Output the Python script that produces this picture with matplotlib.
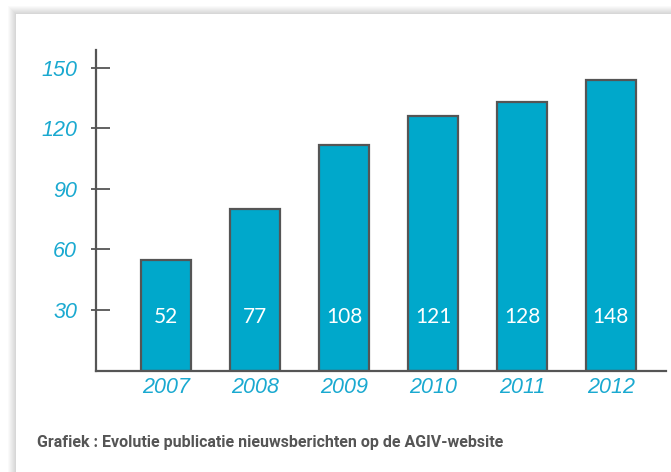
import matplotlib.pyplot as plt
from matplotlib.patches import Rectangle

# Data
years = ["2007", "2008", "2009", "2010", "2011", "2012"]
bar_heights = [55, 80, 112, 126, 133, 144]   # drawn height of each bar
bar_labels = [52, 77, 108, 121, 128, 148]     # number printed inside each bar
y_ticks = [30, 60, 90, 120, 150]

bar_color = "#00a8cb"
edge_color = "#555555"
tick_color = "#1aa9d0"

W, H = 671, 472
fig = plt.figure(figsize=(W / 100, H / 100), dpi=100)
fig.patch.set_facecolor("white")

# --- card with soft shadow on top/left ---
card_x, card_y = 16, 14
for k in range(8, 0, -1):
    fig.patches.append(Rectangle(((card_x - k) / W, 0), 2, 1 - (card_y - k) / H,
                                 transform=fig.transFigure, facecolor="#000000",
                                 alpha=0.018, edgecolor="none", zorder=-5))
fig.patches.append(Rectangle((card_x / W, 0), 2, 1 - card_y / H,
                             transform=fig.transFigure, facecolor="white",
                             edgecolor="none", zorder=-4))

# --- axes ---
x0, x1 = 96, 666
y_base, y_top = 370.5, 50
ax = fig.add_axes([x0 / W, 1 - y_base / H, (x1 - x0) / W, (y_base - y_top) / H])
ax.set_facecolor("none")
ax.set_zorder(2)

pos = list(range(len(years)))
ax.bar(pos, bar_heights, width=0.56, color=bar_color, edgecolor=edge_color,
       linewidth=1.6, zorder=2)

for x, lab in zip(pos, bar_labels):
    ax.text(x, 26.5, str(lab), ha="center", va="center", color="white",
            fontsize=15, family="Lato", zorder=3)

ax.set_xlim(-0.79, 5.62)
ax.set_ylim(0, 158.9)

for s in ["top", "right"]:
    ax.spines[s].set_visible(False)
for s in ["left", "bottom"]:
    ax.spines[s].set_color(edge_color)
    ax.spines[s].set_linewidth(1.6)

ax.set_xticks(pos)
ax.set_xticklabels(years, fontsize=15.5, style="italic", family="Liberation Sans",
                   color=tick_color)
ax.tick_params(axis="x", length=0, pad=4.5)

# y ticks: long part inside, short part outside the spine
ax.set_yticks(y_ticks)
ax.set_yticks(y_ticks, minor=True)
ax.yaxis.remove_overlapping_locs = False
ax.set_yticklabels([str(v) for v in y_ticks], fontsize=15.5, style="italic",
                   family="Liberation Sans", color=tick_color)
ax.tick_params(axis="y", which="major", direction="in", length=10, width=1.3,
               color=edge_color, pad=13.5)
ax.tick_params(axis="y", which="minor", direction="out", length=3.6, width=1.3,
               color=edge_color, labelleft=False)

# caption
fig.text(37 / W, 1 - 443 / H,
         "Grafiek : Evolutie publicatie nieuwsberichten op de AGIV-website",
         ha="left", va="center", fontsize=11.5, fontweight="bold",
         family="Roboto", color="#555555")

fig.savefig("out.png", dpi=100)
